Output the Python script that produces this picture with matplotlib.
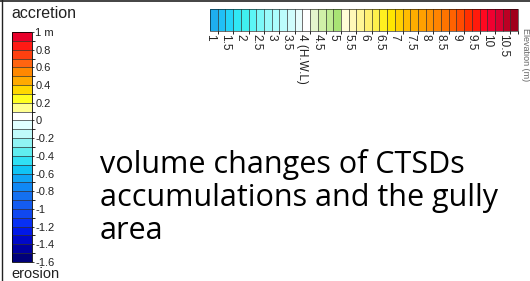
import numpy as np
import matplotlib.pyplot as plt
from matplotlib.colors import ListedColormap, BoundaryNorm
from matplotlib.colorbar import ColorbarBase

# vertical scale: accretion / erosion (m), one colour per 0.1 m, top to bottom
acc_bounds = np.round(np.arange(-1.6, 1.01, 0.1), 2)
acc_colors = ['#e8002a', '#ff1a14', '#ff4010', '#ff6410', '#ff8800', '#ffaa00',
              '#ffd800', '#ffff20', '#ffff90', '#ffffff', '#e0ffff', '#c0fafa',
              '#90f4f4', '#60eef0', '#30e0f4', '#10c4f4', '#10a4f4', '#1088f4',
              '#1470f0', '#145cf0', '#1048f0', '#0830f4', '#0018e8', '#0008c8',
              '#0000a0', '#00007a'][::-1]
acc_ticks = [1, 0.8, 0.6, 0.4, 0.2, 0, -0.2, -0.4, -0.6, -0.8, -1, -1.2, -1.4, -1.6]
acc_labels = ['1 m', '0.8', '0.6', '0.4', '0.2', '0', '-0.2', '-0.4', '-0.6',
              '-0.8', '-1', '-1.2', '-1.4', '-1.6']

# horizontal scale: elevation (m), one colour per 0.25 m
elev_bounds = np.arange(1, 11.01, 0.25)
elev_colors = ['#1eaef0', '#20c0f6', '#24d4f8', '#30e8f4', '#40f0f0', '#5cf6f6',
               '#7cf8f8', '#98fafa', '#acfcfc', '#bcfcfc', '#d0fcfc', '#e6fcfc',
               '#ffffff', '#e4f6cc', '#d0f0a8', '#bfec92', '#a8e474', '#fffcd8',
               '#fff8b8', '#fff696', '#fff070', '#fff04c', '#fff020', '#ffe600',
               '#ffd000', '#ffbc00', '#ffae00', '#ffa000', '#ff9200', '#ff8400',
               '#ff7400', '#ff6200', '#ff4c00', '#ff3000', '#ff1a0c', '#ff0820',
               '#f00030', '#d80030', '#bc0024', '#a0001c']
elev_ticks = np.arange(1, 10.51, 0.5)
elev_labels = ['1', '1.5', '2', '2.5', '3', '3.5', '4 (H.W.L)', '4.5', '5', '5.5',
               '6', '6.5', '7', '7.5', '8', '8.5', '9', '9.5', '10', '10.5']

caption = ['volume changes of CTSDs', 'accumulations and the gully', 'area']

W, H = 530, 281
fig = plt.figure(figsize=(W / 100, H / 100), dpi=100)
fig.patch.set_facecolor('white')

def box(x0, y0, x1, y1):
    # pixel box -> figure fraction
    return [x0 / W, 1 - y1 / H, (x1 - x0) / W, (y1 - y0) / H]

# left colour bar
ax1 = fig.add_axes(box(12, 32, 32, 262))
cb1 = ColorbarBase(ax1, cmap=ListedColormap(acc_colors),
                   norm=BoundaryNorm(acc_bounds, len(acc_colors)),
                   boundaries=acc_bounds, orientation='vertical', drawedges=True)
cb1.set_ticks(acc_ticks)
cb1.set_ticklabels(acc_labels)
cb1.ax.tick_params(labelsize=8, length=1.5, width=0.6, pad=1, colors='#222222')
for t in cb1.ax.get_yticklabels():
    t.set_fontfamily('Liberation Sans')
cb1.dividers.set_color('#333333')
cb1.dividers.set_linewidth(0.5)
cb1.outline.set_linewidth(0.6)

fig.text(11 / W, 1 - 13 / H, 'accretion', fontsize=11.5, family='Liberation Sans',
         ha='left', va='center', color='#222222')
fig.text(11 / W, 1 - 274 / H, 'erosion', fontsize=10.5, family='Liberation Sans',
         ha='left', va='center', color='#222222')

# top colour bar
ax2 = fig.add_axes(box(210, 9, 518, 31))
cb2 = ColorbarBase(ax2, cmap=ListedColormap(elev_colors),
                   norm=BoundaryNorm(elev_bounds, len(elev_colors)),
                   boundaries=elev_bounds, orientation='horizontal', drawedges=True)
cb2.set_ticks(elev_ticks)
cb2.set_ticklabels(elev_labels)
cb2.ax.tick_params(labelsize=8.5, length=0, pad=2, colors='#222222')
for t in cb2.ax.get_xticklabels():
    t.set_rotation(270)
    t.set_va('top')
    t.set_ha('center')
    t.set_fontfamily('Liberation Sans')
cb2.dividers.set_color('#333333')
cb2.dividers.set_linewidth(0.5)
cb2.outline.set_linewidth(0.4)

# axis title at the right edge (cut off in the screenshot)
fig.text(521 / W, 1 - 55 / H, 'Elevation (m)', fontsize=6.5, family='Liberation Sans',
         rotation=270, ha='left', va='center', color='#666666')

# caption
for i, line in enumerate(caption):
    fig.text(100 / W, 1 - (173 + 33 * i) / H, line, fontsize=22, family='Open Sans',
             ha='left', va='baseline', color='black')

# frame lines of the screenshot
fig.add_artist(plt.Line2D([0, 1], [1 - 0.5 / H] * 2, color='#222222', lw=1.2))
fig.add_artist(plt.Line2D([1.5 / W] * 2, [0, 1], color='#222222', lw=1.0))

fig.savefig('out.png', dpi=100)
